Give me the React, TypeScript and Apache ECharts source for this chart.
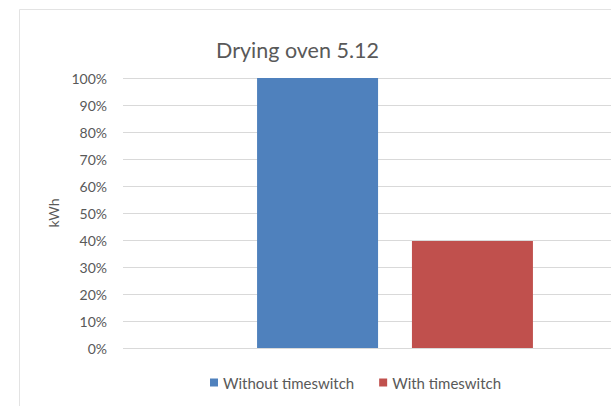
import React, { useEffect, useRef } from "react";
import * as echarts from "echarts";

const categories = ["Drying oven 5.12"];
const seriesNames = ["Without timeswitch", "With timeswitch"];
const withoutValues = [100];
const withValues = [39.6];
const titleText = "Drying oven 5.12";
const yAxisName = "kWh";

export default function App() {
  const ref = useRef<HTMLDivElement>(null);
  useEffect(() => {
    if (!ref.current) return;
    const chart = echarts.init(ref.current, undefined, { renderer: "svg" });
    const font = "Lato, 'Open Sans', sans-serif";
    chart.setOption({
      animation: false,
      backgroundColor: "#ffffff",
      textStyle: { fontFamily: font },
      title: {
        text: titleText,
        left: 211,
        top: 34,
        textStyle: { fontFamily: font, fontSize: 21.5, fontWeight: "normal", color: "#595959" },
      },
      graphic: [
        {
          type: "polyline",
          shape: { points: [[19.5, 500], [19.5, 9.5], [700, 9.5]] },
          style: { fill: "none", stroke: "#e3e3e3", lineWidth: 1 },
          silent: true,
        },
      ],
      legend: {
        left: 205,
        top: 370,
        icon: "rect",
        itemWidth: 8,
        itemHeight: 8,
        itemGap: 25,
        textStyle: { fontFamily: font, fontSize: 15, color: "#595959" },
        data: seriesNames,
      },
      grid: { left: 123, right: 0, top: 78, bottom: 58, containLabel: false },
      xAxis: {
        type: "category",
        data: categories,
        axisLine: { show: false },
        axisTick: { show: false },
        axisLabel: { show: false },
      },
      yAxis: {
        type: "value",
        min: 0,
        max: 100,
        interval: 10,
        name: yAxisName,
        nameLocation: "middle",
        nameGap: 62,
        nameRotate: 90,
        nameTextStyle: { fontFamily: font, fontSize: 14, color: "#595959" },
        axisLine: { show: false },
        axisTick: { show: false },
        axisLabel: { formatter: "{value}%", fontFamily: font, fontSize: 14, color: "#595959", margin: 16 },
        splitLine: { lineStyle: { color: "#d9d9d9", width: 1 } },
      },
      series: [
        {
          name: seriesNames[0],
          type: "bar",
          data: withoutValues,
          barWidth: 121,
          barGap: "28%",
          itemStyle: { color: "#4f81bd" },
        },
        {
          name: seriesNames[1],
          type: "bar",
          data: withValues,
          barWidth: 121,
          barGap: "28%",
          itemStyle: { color: "#c0504d" },
        },
      ],
    });
    return () => chart.dispose();
  }, []);
  return (
    <div style={{ position: "fixed", left: 0, top: 0, width: 611, height: 406, overflow: "hidden" }}>
      <div ref={ref} style={{ width: 667, height: 406 }} />
    </div>
  );
}
